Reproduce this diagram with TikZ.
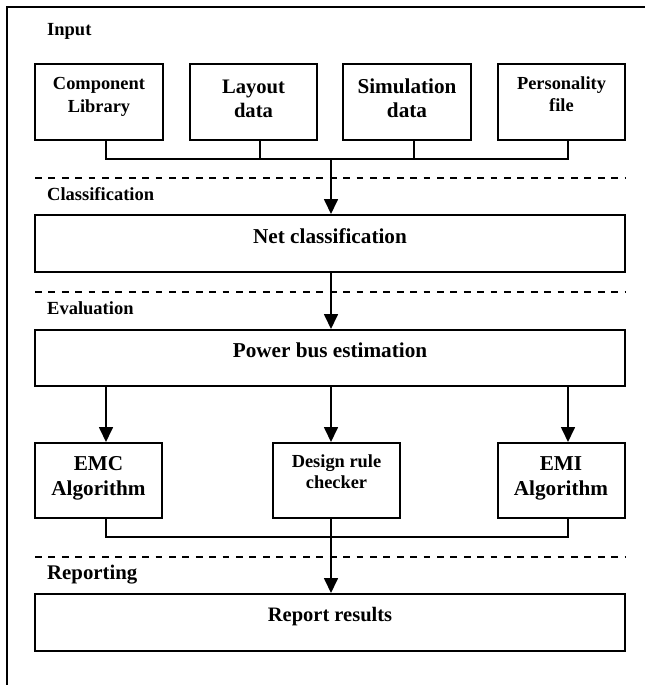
\documentclass[tikz,border=0pt]{standalone}
\usepackage{fontspec}
\setmainfont{Liberation Serif}
\usetikzlibrary{arrows.meta}

\tikzset{
  box/.style={draw, line width=2pt, inner sep=0pt},
  wire/.style={line width=1.7pt},
  arr/.style={wire, -{Triangle[length=15pt,width=14pt]}},
  sep/.style={line width=1.5pt, dash pattern=on 6.7pt off 6.7pt},
  frame/.style={line width=2pt},
  lbl/.style={inner sep=0pt, anchor=base west, font=\bfseries\fontsize{18.5}{22}\selectfont},
  small/.style={inner sep=0pt, anchor=base, font=\bfseries\fontsize{18.4}{22}\selectfont},
  big/.style={inner sep=0pt, anchor=base, font=\bfseries\fontsize{21.2}{25}\selectfont},
}

\begin{document}
\begin{tikzpicture}[x=1pt, y=-1pt]
  \useasboundingbox (0,0) rectangle (645,685);

  % open frame: top and left edges only
  \draw[frame] (7,685) -- (7,7) -- (645,7);

  % stage labels
  \node[lbl] (linput) at (47,36) {Input};
  \node[lbl] (lclass) at (47,200) {Classification};
  \node[lbl] (leval)  at (47,314) {Evaluation};
  \node[lbl, font=\bfseries\fontsize{20.8}{24}\selectfont] (lrep) at (47,579) {Reporting};

  % stage separators
  \draw[sep] (35,178) -- (625,178);
  \draw[sep] (35,292) -- (625,292);
  \draw[sep] (35,557) -- (625,557);

  % input boxes
  \node[box, minimum width=128pt, minimum height=76pt] (cl) at (99,102) {};
  \node[box, minimum width=127pt, minimum height=76pt] (ld) at (253.5,102) {};
  \node[box, minimum width=128pt, minimum height=76pt] (sd) at (407,102) {};
  \node[box, minimum width=127pt, minimum height=76pt] (pf) at (561.5,102) {};

  \node[small] (cl1) at (99,89)  {Component};
  \node[small] (cl2) at (99,112) {Library};
  \node[big, font=\bfseries\fontsize{20.6}{25}\selectfont] (ld1) at (253.5,93)  {Layout};
  \node[big, font=\bfseries\fontsize{20.6}{25}\selectfont] (ld2) at (253.5,117) {data};
  \node[big] (sd1) at (407,93)  {Simulation};
  \node[big] (sd2) at (407,117) {data};
  \node[small] (pf1) at (561.5,89)  {Personality};
  \node[small] (pf2) at (561.5,111) {file};

  % full-width stage boxes
  \node[box, minimum width=590pt, minimum height=57pt] (net) at (330,243.5) {};
  \node[box, minimum width=590pt, minimum height=56pt] (pow) at (330,358) {};
  \node[box, minimum width=590pt, minimum height=57pt] (rep) at (330,622.5) {};
  \node[big] (nett) at (330,243) {Net classification};
  \node[big] (powt) at (330,357) {Power bus estimation};
  \node[big, font=\bfseries\fontsize{20.5}{24}\selectfont] (rept) at (330,621) {Report results};

  % evaluation boxes
  \node[box, minimum width=127pt, minimum height=75pt] (emc) at (98.5,480.5) {};
  \node[box, minimum width=127pt, minimum height=75pt] (drc) at (336.5,480.5) {};
  \node[box, minimum width=127pt, minimum height=75pt] (emi) at (561.5,480.5) {};
  \node[big] (emc1) at (98.5,470) {EMC};
  \node[big] (emc2) at (98.5,495) {Algorithm};
  \node[small] (drc1) at (336.5,467) {Design rule};
  \node[small] (drc2) at (336.5,488) {checker};
  \node[big] (emi1) at (561,470) {EMI};
  \node[big] (emi2) at (561,495) {Algorithm};

  % junction points
  \coordinate (j1) at (106,159);
  \coordinate (j2) at (260,159);
  \coordinate (j3) at (331,159);
  \coordinate (j4) at (414,159);
  \coordinate (j5) at (568,159);
  \coordinate (k1) at (106,537);
  \coordinate (k5) at (568,537);

  % input bus into classification
  \draw[wire] (j1 |- cl.south) -- (j1) -- (j5) -- (j5 |- pf.south);
  \draw[wire] (j2 |- ld.south) -- (j2);
  \draw[wire] (j4 |- sd.south) -- (j4);
  \draw[arr] (j3) -- (j3 |- net.north);
  \draw[arr] (j3 |- net.south) -- (j3 |- pow.north);

  % power bus estimation fans out
  \draw[arr] (j1 |- pow.south) -- (j1 |- emc.north);
  \draw[arr] (j3 |- pow.south) -- (j3 |- drc.north);
  \draw[arr] (j5 |- pow.south) -- (j5 |- emi.north);

  % results gathered into the report
  \draw[wire] (k1 |- emc.south) -- (k1) -- (k5) -- (k5 |- emi.south);
  \draw[arr] (j3 |- drc.south) -- (j3 |- rep.north);
\end{tikzpicture}
\end{document}
